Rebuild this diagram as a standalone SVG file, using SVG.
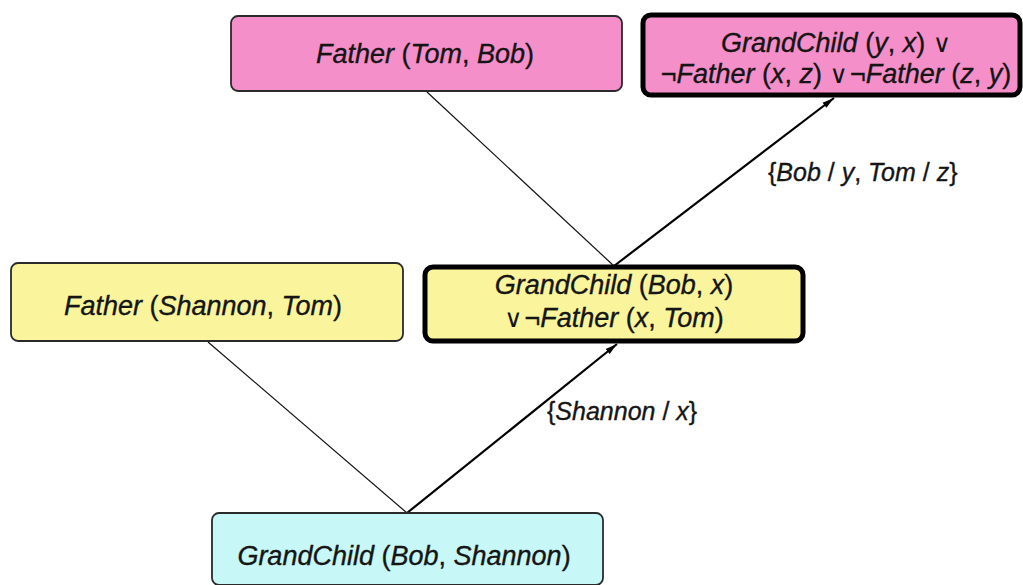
<svg xmlns="http://www.w3.org/2000/svg" width="1023" height="585" viewBox="0 0 1023 585">
  <defs>
    <marker id="arrowhead" viewBox="0 0 12 8" refX="12" refY="4" markerWidth="12" markerHeight="8" markerUnits="userSpaceOnUse" orient="auto">
      <path d="M0,0.8 L12,4 L0,7.2 Z" fill="#000"/>
    </marker>
    <style>
      .box { stroke: #2a2a2a; stroke-width: 1.8; }
      .thick { stroke: #000; stroke-width: 5; }
      .pink { fill: #f48fc9; }
      .yellow { fill: #faf59c; }
      .cyan { fill: #c8f7f7; }
      text { font-family: "Liberation Sans", Arial, "DejaVu Sans", sans-serif; font-size: 27px; fill: #151515; stroke: #151515; stroke-width: 0.35; }
      .lbl { font-size: 25px; }
      .i { font-style: italic; }
      .op { font-family: "DejaVu Sans", sans-serif; font-size: 25px; stroke-width: 0; }
      .link { stroke: #111; stroke-width: 1.2; fill: none; }
      .step { stroke: #000; stroke-width: 2.2; fill: none; marker-end: url(#arrowhead); }
    </style>
  </defs>
  <rect width="1023" height="585" fill="#fff"/>

  <!-- resolution steps -->
  <g id="connectors">
    <line class="link" x1="427" y1="92" x2="614" y2="266"/>
    <line class="step" x1="614" y1="266" x2="834" y2="98"/>
    <line class="link" x1="208" y1="342" x2="407" y2="513"/>
    <line class="step" x1="407" y1="513" x2="617" y2="344"/>
    <text class="lbl" x="768" y="181">{<tspan class="i">Bob</tspan> / <tspan class="i">y</tspan>, <tspan class="i">Tom</tspan> / <tspan class="i">z</tspan>}</text>
    <text class="lbl" x="547" y="420">{<tspan class="i">Shannon</tspan> / <tspan class="i">x</tspan>}</text>
  </g>

  <g id="father-tom-bob">
    <rect class="box pink" x="231" y="16" width="391" height="75" rx="7"/>
    <text x="425" y="63" text-anchor="middle"><tspan class="i">Father</tspan> (<tspan class="i">Tom</tspan>, <tspan class="i">Bob</tspan>)</text>
  </g>

  <g id="rule-grandchild">
    <rect class="thick pink" x="643" y="15" width="377" height="80" rx="8"/>
    <text x="836" y="52" text-anchor="middle"><tspan class="i">GrandChild</tspan> (<tspan class="i">y</tspan>, <tspan class="i">x</tspan>) <tspan class="op">∨</tspan></text>
    <text x="836" y="83" text-anchor="middle">¬<tspan class="i">Father</tspan> (<tspan class="i">x</tspan>, <tspan class="i">z</tspan>) <tspan class="op">∨</tspan><tspan dx="2">¬</tspan><tspan class="i">Father</tspan> (<tspan class="i">z</tspan>, <tspan class="i">y</tspan>)</text>
  </g>

  <g id="father-shannon-tom">
    <rect class="box yellow" x="11" y="263" width="392" height="78" rx="7"/>
    <text x="203" y="315" text-anchor="middle"><tspan class="i">Father</tspan> (<tspan class="i">Shannon</tspan>, <tspan class="i">Tom</tspan>)</text>
  </g>

  <g id="resolvent-grandchild-bob">
    <rect class="thick yellow" x="425" y="267" width="378" height="74" rx="8"/>
    <text x="614" y="294" text-anchor="middle"><tspan class="i">GrandChild</tspan> (<tspan class="i">Bob</tspan>, <tspan class="i">x</tspan>)</text>
    <text x="614" y="327" text-anchor="middle"><tspan class="op">∨</tspan><tspan dx="2">¬</tspan><tspan class="i">Father</tspan> (<tspan class="i">x</tspan>, <tspan class="i">Tom</tspan>)</text>
  </g>

  <g id="goal-grandchild-bob-shannon">
    <rect class="box cyan" x="212" y="513" width="391" height="72" rx="7"/>
    <text x="404" y="565" text-anchor="middle"><tspan class="i">GrandChild</tspan> (<tspan class="i">Bob</tspan>, <tspan class="i">Shannon</tspan>)</text>
  </g>
</svg>
